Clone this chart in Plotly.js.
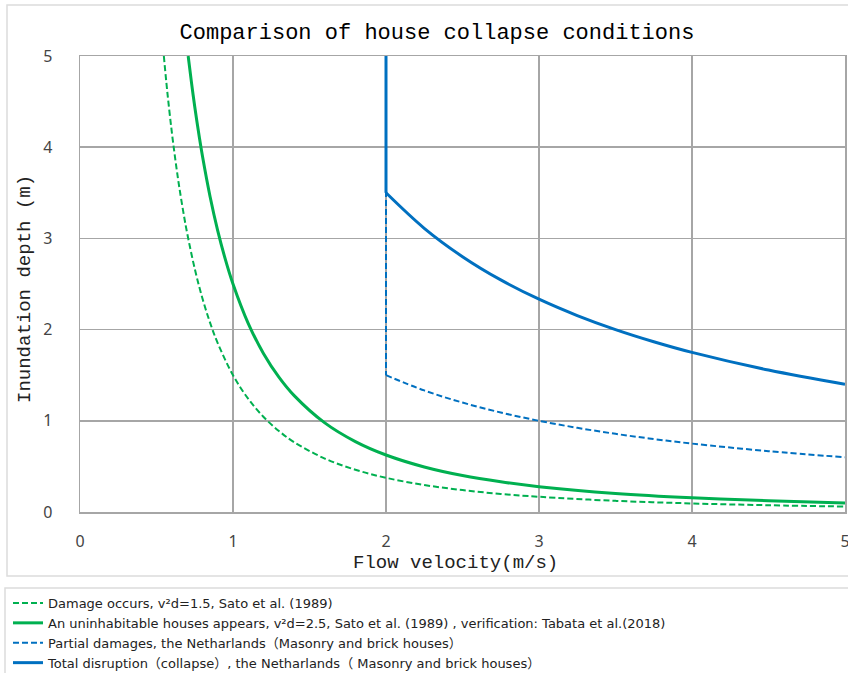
<!DOCTYPE html>
<html>
<head>
<meta charset="utf-8">
<script src="https://cdn.plot.ly/plotly-3.0.1.min.js"></script>
<style>html,body{margin:0;padding:0;background:#fff;}#chart{width:848px;height:673px;}</style>
</head>
<body>
<div id="chart"></div>
<script>
// Green dashed: damage occurs (v²d = 1.5)
var damageV = [0.548, 0.57, 0.6, 0.63, 0.65, 0.68, 0.7, 0.75, 0.8, 0.85, 0.9, 1.0, 1.1, 1.2, 1.3, 1.4, 1.6, 1.8, 2.0, 2.25, 2.5, 2.75, 3.0, 3.5, 4.0, 4.5, 5.0];
var damageD = [5.0, 4.617, 4.167, 3.779, 3.550, 3.244, 3.061, 2.667, 2.344, 2.076, 1.852, 1.5, 1.240, 1.042, 0.888, 0.765, 0.586, 0.463, 0.375, 0.296, 0.24, 0.198, 0.167, 0.122, 0.094, 0.074, 0.06];
// Green solid: uninhabitable (v²d = 2.5)
var uninhabV = [0.707, 0.73, 0.75, 0.78, 0.8, 0.85, 0.9, 0.95, 1.0, 1.1, 1.2, 1.3, 1.4, 1.6, 1.8, 2.0, 2.25, 2.5, 2.75, 3.0, 3.5, 4.0, 4.5, 5.0];
var uninhabD = [5.0, 4.691, 4.444, 4.109, 3.906, 3.460, 3.086, 2.770, 2.5, 2.066, 1.736, 1.479, 1.276, 0.977, 0.772, 0.625, 0.494, 0.4, 0.331, 0.278, 0.204, 0.156, 0.123, 0.1];
// Blue dashed: partial damages, Netherlands (vertical part, then curve)
var partialWallV = [2.0, 2.0];
var partialWallD = [5.0, 1.5];
var partialV = [2.0, 2.25, 2.5, 2.75, 3.0, 3.25, 3.5, 3.75, 4.0, 4.5, 5.0];
var partialD = [1.5, 1.333, 1.2, 1.091, 1.0, 0.923, 0.857, 0.8, 0.75, 0.667, 0.6];
// Blue solid: total disruption, Netherlands (vertical part, then curve)
var totalWallV = [2.0, 2.0];
var totalWallD = [5.0, 3.5];
var totalV = [2.0, 2.25, 2.5, 2.75, 3.0, 3.25, 3.5, 3.75, 4.0, 4.5, 5.0];
var totalD = [3.5, 3.111, 2.8, 2.545, 2.333, 2.154, 2.0, 1.867, 1.75, 1.556, 1.4];

var seriesNames = [
  "Damage occurs, v²d=1.5, Sato et al. (1989)",
  "An uninhabitable houses appears, v²d=2.5, Sato et al. (1989) , verification: Tabata et al.(2018)",
  "Partial damages, the Netharlands（Masonry and brick houses）",
  "Total disruption（collapse）, the Netharlands（ Masonry and brick houses）"
];
var xTicks = [0, 1, 2, 3, 4, 5];
var yTicks = [0, 1, 2, 3, 4, 5];

var green = "#00b050", blue = "#0070c0";
var dashPat = "6px,3px";
var traces = [
  {x: damageV, y: damageD, name: seriesNames[0], mode: "lines", line: {color: green, width: 2, dash: dashPat, shape: "spline", smoothing: 1}},
  {x: uninhabV, y: uninhabD, name: seriesNames[1], mode: "lines", line: {color: green, width: 3, shape: "spline", smoothing: 1}},
  {x: partialV, y: partialD, name: seriesNames[2], legendgroup: "p", mode: "lines", line: {color: blue, width: 2, dash: dashPat, shape: "spline", smoothing: 1}},
  {x: partialWallV, y: partialWallD, name: seriesNames[2], legendgroup: "p", showlegend: false, mode: "lines", line: {color: blue, width: 2, dash: dashPat}},
  {x: totalV, y: totalD, name: seriesNames[3], legendgroup: "t", mode: "lines", line: {color: blue, width: 3, shape: "spline", smoothing: 1}},
  {x: totalWallV, y: totalWallD, name: seriesNames[3], legendgroup: "t", showlegend: false, mode: "lines", line: {color: blue, width: 3}}
];

var L = 80, R = 845, T = 56, B = 512;
var W = R - L, H = B - T;
function px(x){ return (x - L) / W; }
function py(y){ return (B - y) / H; }

var layout = {
  width: 848, height: 673,
  margin: {l: L, r: 848 - R, t: T, b: 673 - B, pad: 0, autoexpand: false},
  paper_bgcolor: "#ffffff", plot_bgcolor: "#ffffff",
  showlegend: true,
  title: {text: "Comparison of house collapse conditions", x: 437/848, xanchor: "center", y: 1 - 31/673, yanchor: "middle",
          font: {family: "Liberation Mono, DejaVu Sans Mono, monospace", size: 22, color: "#000"}},
  xaxis: {range: [0, 5], tickvals: xTicks, ticktext: xTicks.map(String), showgrid: true, gridcolor: "#a6a6a6", gridwidth: 1.5,
          zeroline: false, showline: true, linecolor: "#a6a6a6", linewidth: 1.5, mirror: true, ticks: "", automargin: false,
          ticklabeloverflow: "allow", ticklabelstandoff: 14, tickfont: {family: "Noto Sans, sans-serif", size: 16, color: "#444"}, fixedrange: true},
  yaxis: {range: [0, 5], tickvals: yTicks, ticktext: yTicks.map(String), showgrid: true, gridcolor: "#a6a6a6", gridwidth: 1.5,
          zeroline: false, showline: true, linecolor: "#a6a6a6", linewidth: 1.5, mirror: true, ticks: "", automargin: false,
          ticklabeloverflow: "allow", ticklabelstandoff: 23, tickfont: {family: "Noto Sans, sans-serif", size: 16, color: "#444"}, fixedrange: true},
  legend: {x: px(8), xanchor: "left", y: py(588), yanchor: "top", orientation: "v", bgcolor: "rgba(0,0,0,0)",
           font: {family: "DejaVu Sans, Noto Sans CJK JP, sans-serif", size: 13, color: "#222"}, tracegroupgap: 0},
  shapes: [
    {type: "rect", xref: "paper", yref: "paper", x0: px(7), x1: px(852), y0: py(576), y1: py(5), line: {color: "#dcdcdc", width: 1.5}, fillcolor: "rgba(0,0,0,0)", layer: "below"},
    {type: "rect", xref: "paper", yref: "paper", x0: px(5), x1: px(852), y0: py(690), y1: py(588), line: {color: "#dcdcdc", width: 1.5}, fillcolor: "rgba(0,0,0,0)", layer: "below"}
  ],
  annotations: [
    {text: "Flow velocity(m/s)", xref: "paper", yref: "paper", x: px(455), y: py(563), xanchor: "center", yanchor: "middle", showarrow: false,
     font: {family: "Liberation Mono, DejaVu Sans Mono, monospace", size: 19, color: "#222"}},
    {text: "Inundation depth (m)", xref: "paper", yref: "paper", x: px(25), y: py(289), xanchor: "center", yanchor: "middle", textangle: -90, showarrow: false,
     font: {family: "Liberation Mono, DejaVu Sans Mono, monospace", size: 19, color: "#222"}}
  ]
};

Plotly.newPlot("chart", traces, layout, {displayModeBar: false, staticPlot: true});
</script>
</body>
</html>
